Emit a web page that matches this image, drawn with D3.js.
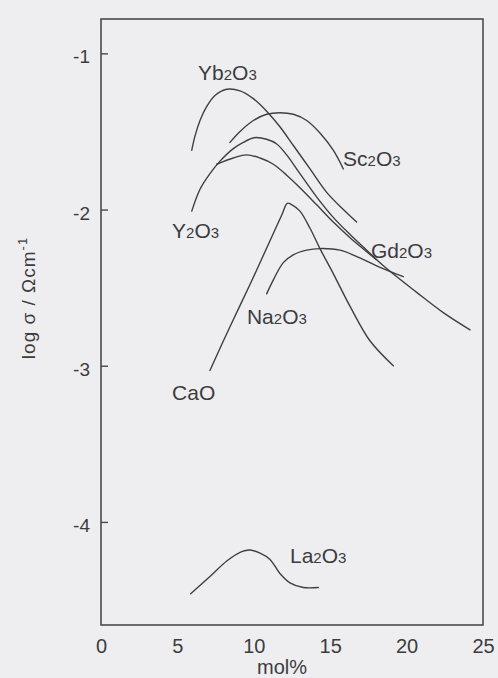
<!DOCTYPE html>
<html>
<head>
<meta charset="utf-8">
<script src="https://cdn.jsdelivr.net/npm/d3@7"></script>
<style>
  html, body { margin: 0; padding: 0; background: #eeeef0; }
  svg { display: block; font-family: "Liberation Sans", Arial, Helvetica, sans-serif; }
</style>
</head>
<body>
<svg id="chart" width="498" height="678"></svg>
<script>
// Conductivity (log σ / Ω⁻¹cm⁻¹) of doped ceria versus dopant content (mol%)
const xTicks = [0, 5, 10, 15, 20, 25];
const yTicks = [-1, -2, -3, -4];

const ybMol = [5.94, 6.15, 6.48, 6.92, 7.46, 8.23, 9.10, 9.97, 10.84, 11.71, 12.59, 13.68, 14.77, 15.86, 16.73];
const ybLog = [-1.62, -1.53, -1.43, -1.34, -1.27, -1.23, -1.24, -1.29, -1.37, -1.47, -1.59, -1.74, -1.89, -2.00, -2.08];

const scMol = [8.44, 9.10, 9.97, 10.84, 11.71, 12.59, 13.46, 14.33, 15.20, 15.86];
const scLog = [-1.57, -1.50, -1.43, -1.39, -1.38, -1.39, -1.43, -1.51, -1.62, -1.74];

const yMol = [5.94, 6.48, 7.13, 7.79, 8.66, 9.31, 10.01, 10.84, 11.50, 12.15, 13.02, 14.12, 15.20, 16.30, 17.39, 18.48, 20.66, 22.40, 24.15];
const yLog = [-2.01, -1.87, -1.77, -1.69, -1.61, -1.57, -1.54, -1.55, -1.58, -1.65, -1.77, -1.92, -2.05, -2.16, -2.26, -2.36, -2.53, -2.66, -2.77];

const gdMol = [7.57, 8.66, 9.54, 10.41, 11.28, 12.15, 13.02, 14.12, 15.20, 16.30, 17.39, 18.00];
const gdLog = [-1.71, -1.67, -1.65, -1.67, -1.71, -1.78, -1.86, -1.97, -2.08, -2.18, -2.27, -2.32];

const naMol = [10.84, 11.28, 11.93, 12.58, 13.46, 14.33, 15.64, 16.94, 18.04, 19.78];
const naLog = [-2.54, -2.45, -2.34, -2.29, -2.26, -2.25, -2.26, -2.31, -2.36, -2.43];

const caMol = [7.13, 8.44, 9.75, 11.06, 11.85, 12.19, 12.50, 13.02, 13.68, 14.33, 15.20, 16.30, 17.60, 19.13];
const caLog = [-3.03, -2.75, -2.48, -2.20, -2.03, -1.96, -1.97, -2.01, -2.12, -2.25, -2.41, -2.62, -2.84, -3.00];

const laMol = [5.87, 7.13, 8.23, 9.21, 9.75, 10.41, 11.06, 11.71, 12.37, 13.24, 14.22];
const laLog = [-4.46, -4.35, -4.25, -4.19, -4.18, -4.20, -4.24, -4.33, -4.39, -4.42, -4.42];

const dopants = ["Yb2O3", "Sc2O3", "Y2O3", "Gd2O3", "Na2O3", "CaO", "La2O3"];
// where each curve's name sits: [mol%, log σ] of the text's left baseline
const labelMol = [6.35, 15.84, 4.65, 17.67, 9.55, 4.65, 12.37];
const labelLog = [-1.17, -1.72, -2.18, -2.31, -2.73, -3.22, -4.26];

const seriesMol = [ybMol, scMol, yMol, gdMol, naMol, caMol, laMol];
const seriesLog = [ybLog, scLog, yLog, gdLog, naLog, caLog, laLog];

const ink = "#3c3c3e";
const svg = d3.select("#chart");

const x = d3.scaleLinear().domain([0, 25]).range([101, 483]);
const y = d3.scaleLinear().domain([-4.66, -0.78]).range([625, 19]);

// plot frame
svg.append("rect")
  .attr("x", x(0)).attr("y", y(-0.78))
  .attr("width", x(25) - x(0)).attr("height", y(-4.66) - y(-0.78))
  .attr("fill", "none").attr("stroke", "#4a4a4c").attr("stroke-width", 1.6);

// axes
const yAxis = svg.append("g")
  .attr("transform", `translate(${x(0)},0)`)
  .call(d3.axisLeft(y).tickValues(yTicks).tickSize(-7).tickPadding(11).tickFormat(d => String(d)));
yAxis.select(".domain").remove();
yAxis.selectAll("line").attr("stroke", "#4a4a4c").attr("stroke-width", 1.4);
yAxis.selectAll("text").attr("font-size", 19).attr("fill", ink)
  .attr("font-family", "Liberation Sans, Arial, sans-serif").attr("dy", "0.5em");

const xAxis = svg.append("g")
  .attr("transform", `translate(0,${y(-4.66)})`)
  .call(d3.axisBottom(x).tickValues(xTicks).tickSize(0).tickPadding(14).tickFormat(d => String(d)));
xAxis.select(".domain").remove();
xAxis.selectAll("text").attr("font-size", 20).attr("fill", ink)
  .attr("font-family", "Liberation Sans, Arial, sans-serif");

// axis titles
svg.append("text")
  .attr("x", 282).attr("y", 674)
  .attr("text-anchor", "middle").attr("font-size", 20).attr("fill", ink)
  .text("mol%");

const yTitle = svg.append("text")
  .attr("transform", "translate(35,298) rotate(-90)")
  .attr("text-anchor", "middle").attr("font-size", 19).attr("fill", ink)
  .attr("letter-spacing", 1);
yTitle.append("tspan").text("log σ  /  Ωcm");
yTitle.append("tspan").attr("font-size", 13).attr("dy", -8).text("-1");

// curves
const line = d3.line()
  .x(d => x(d[0])).y(d => y(d[1]))
  .curve(d3.curveCatmullRom.alpha(0.5));

svg.append("g")
  .selectAll("path")
  .data(seriesMol.map((m, i) => m.map((v, j) => [v, seriesLog[i][j]])))
  .join("path")
  .attr("d", line)
  .attr("fill", "none")
  .attr("stroke", "#3f3f42")
  .attr("stroke-width", 1.4)
  .attr("stroke-linejoin", "round")
  .attr("stroke-linecap", "round");

// curve names, digits set as subscripts
const names = svg.append("g").attr("fill", ink).attr("font-size", 21);
dopants.forEach((name, i) => {
  const t = names.append("text")
    .attr("x", x(labelMol[i])).attr("y", y(labelLog[i]));
  name.split(/(\d)/).filter(s => s.length).forEach(part => {
    const sub = /\d/.test(part);
    t.append("tspan")
      .attr("font-size", sub ? 15 : 21)
      .text(part);
  });
});
</script>
</body>
</html>
